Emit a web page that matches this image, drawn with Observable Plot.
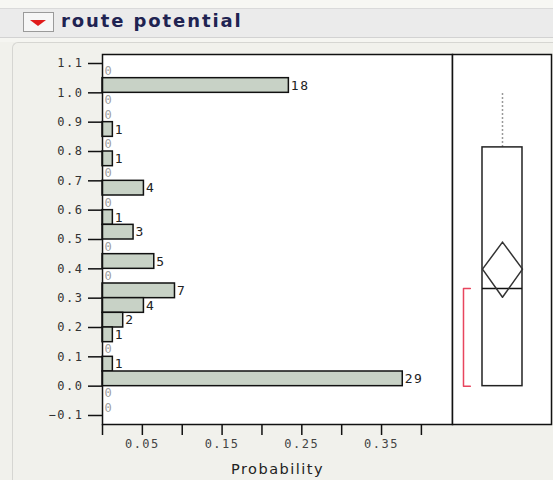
<!DOCTYPE html>
<html><head><meta charset="utf-8">
<script src="https://cdn.jsdelivr.net/npm/d3@7"></script>
<script src="https://cdn.jsdelivr.net/npm/@observablehq/plot@0.6"></script>
<style>
html,body{margin:0;padding:0;}
body{width:553px;height:480px;overflow:hidden;position:relative;background:#f1f1ec;font-family:"DejaVu Sans",sans-serif;}
#strip{position:absolute;left:0;top:0;width:553px;height:8px;background:#f7f7f3;}
#bar{position:absolute;left:0;top:8px;width:553px;height:28px;background:#ebebeb;border-top:1px solid #dadada;border-bottom:1px solid #d2d2d2;}
#btn{position:absolute;left:23px;top:3px;width:29px;height:18px;border:1px solid #9a9a9a;background:#f6f6f6;}
#tri{position:absolute;left:6px;top:7px;width:0;height:0;border-left:8.5px solid transparent;border-right:8.5px solid transparent;border-top:6px solid #e01b1b;}
#title{position:absolute;left:61px;top:1px;font:bold 18px "DejaVu Sans";color:#1f2352;letter-spacing:1.9px;white-space:nowrap;}
#gap{position:absolute;left:0;top:38px;width:553px;height:4px;background:#f5f5f1;}
#panel{position:absolute;left:12px;top:42px;width:541px;height:438px;border-left:1px solid #d6d6d2;border-top:1px solid #d6d6d2;border-top-left-radius:6px;background:#f1f1ec;}
#left{position:absolute;left:0;top:42px;}
#right{position:absolute;left:452px;top:42px;}
svg{overflow:visible;}
#left svg text{letter-spacing:1.5px;}
</style>
</head><body>
<div id="strip"></div>
<div id="bar"><div id="btn"><div id="tri"></div></div><div id="title">route potential</div></div>
<div id="gap"></div>
<div id="panel"></div>
<div id="left"></div>
<div id="right"></div>
<script>
// Histogram bins (lower edge) and counts
const binWidth = 0.05;
const binLo = [1.05, 1.0, 0.95, 0.9, 0.85, 0.8, 0.75, 0.7, 0.65, 0.6, 0.55, 0.5, 0.45, 0.4, 0.35, 0.3, 0.25, 0.2, 0.15, 0.1, 0.05, 0.0, -0.05, -0.1];
const counts = [0, 18, 0, 0, 1, 0, 1, 0, 4, 0, 1, 3, 0, 5, 0, 7, 4, 2, 1, 0, 1, 29, 0, 0];

// Tick values
const yTicks = [-0.1, 0.0, 0.1, 0.2, 0.3, 0.4, 0.5, 0.6, 0.7, 0.8, 0.9, 1.0, 1.1];
const xTicks = [0, 0.05, 0.1, 0.15, 0.2, 0.25, 0.3, 0.35, 0.4];
const xLabelTicks = [0.05, 0.15, 0.25, 0.35];

// Outlier box plot summary
const quantileNames = ["min", "q1", "median", "q3", "max"];
const quantileValues = [0.0, 0.0, 0.333, 0.814, 1.0];
const meanValue = [0.399];
const meanCI = [0.303, 0.491];
const shortestHalf = [0.0, 0.333];

const total = d3.sum(counts);
const rows = binLo.map((lo, i) => ({lo, hi: lo + binWidth, mid: lo + binWidth / 2, n: counts[i], p: counts[i] / total}));
const yDomain = [-0.1307, 1.1307];

const left = Plot.plot({
  width: 453, height: 438,
  marginLeft: 102, marginRight: 1, marginTop: 12, marginBottom: 56,
  style: {background: "transparent", fontFamily: "DejaVu Sans Mono", fontSize: "12px", color: "#333"},
  x: {domain: [0, 0.439], label: null},
  y: {domain: yDomain, label: null},
  marks: [
    Plot.frame({fill: "white", stroke: "none"}),
    Plot.rect(rows.filter(d => d.n > 0), {x1: 0, x2: "p", y1: "lo", y2: "hi", fill: "#c8d2c6", stroke: "#111", strokeWidth: 1.5}),
    Plot.text(rows.filter(d => d.n > 0), {x: "p", y: "mid", text: d => String(d.n), textAnchor: "start", dx: 2, fill: "#222", fontSize: 13}),
    Plot.text(rows.filter(d => d.n === 0), {x: 0, y: "mid", text: d => String(d.n), textAnchor: "start", dx: 2, fill: "#a0a0a0", fontSize: 12}),
    Plot.axisY({ticks: yTicks, tickSize: 14, tickPadding: 5, tickFormat: d3.format(".1f"), stroke: "#111", strokeWidth: 1.5, label: null}),
    Plot.axisX({ticks: xTicks, tickSize: 11, tickFormat: () => "", stroke: "#111", strokeWidth: 1.5, label: null}),
    Plot.axisX({ticks: xLabelTicks, tickSize: 0, tickPadding: 15, tickFormat: d3.format(".2f"), fill: "#444", label: null}),
    Plot.text(["Probability"], {frameAnchor: "bottom", dy: 39, lineAnchor: "top", text: d => d, fontSize: 14.5, fontFamily: "DejaVu Sans", fill: "#222"}),
    Plot.frame({stroke: "#111", strokeWidth: 1.5})
  ]
});
document.getElementById("left").appendChild(left);

const q = Object.fromEntries(quantileNames.map((k, i) => [k, quantileValues[i]]));
const boxLeft = 0.303, boxRight = 0.707, boxMid = 0.505, brX = 0.111, brTip = 0.18;
const diamond = [
  {x: boxMid, y: meanCI[1]}, {x: boxRight, y: meanValue[0]}, {x: boxMid, y: meanCI[0]}, {x: boxLeft, y: meanValue[0]}, {x: boxMid, y: meanCI[1]}
];
const bracket = [
  {x: brTip, y: shortestHalf[0]}, {x: brX, y: shortestHalf[0]}, {x: brX, y: shortestHalf[1]}, {x: brTip, y: shortestHalf[1]}
];

const right = Plot.plot({
  width: 101, height: 438,
  marginLeft: 0, marginRight: 2, marginTop: 12, marginBottom: 56,
  style: {background: "transparent"},
  x: {domain: [0, 1], axis: null},
  y: {domain: yDomain, axis: null},
  marks: [
    Plot.frame({fill: "white", stroke: "none"}),
    Plot.ruleX([boxMid], {x: d => d, y1: q.q3, y2: q.max, stroke: "#999", strokeDasharray: "2,2", strokeWidth: 1.5}),
    Plot.rect([q], {x1: boxLeft, x2: boxRight, y1: d => d.q1, y2: d => d.q3, fill: "none", stroke: "#222", strokeWidth: 1.5}),
    Plot.ruleY([q.median], {y: d => d, x1: boxLeft, x2: boxRight, stroke: "#111", strokeWidth: 1.5}),
    Plot.line(diamond, {x: "x", y: "y", stroke: "#333", strokeWidth: 1.5}),
    Plot.line(bracket, {x: "x", y: "y", stroke: "#e8455e", strokeWidth: 1.5}),
    Plot.frame({stroke: "#111", strokeWidth: 1.5})
  ]
});
document.getElementById("right").appendChild(right);
</script>
</body></html>
